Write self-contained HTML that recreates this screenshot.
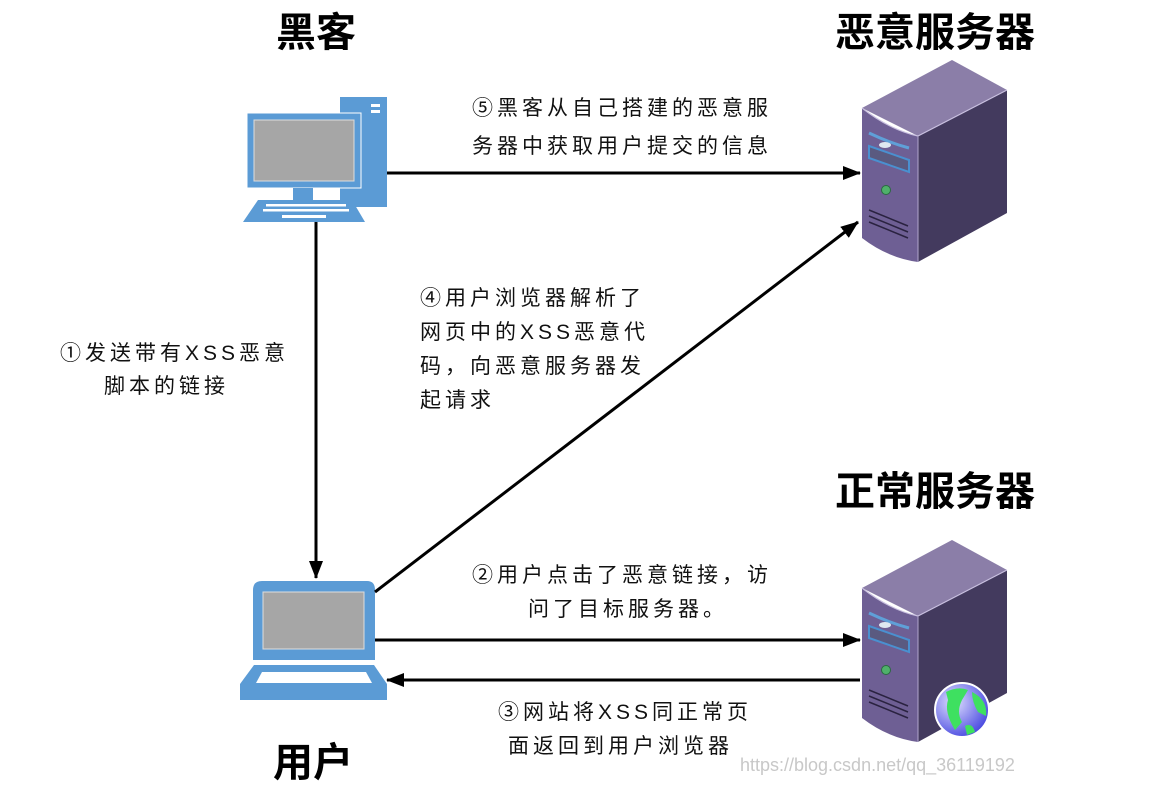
<!DOCTYPE html>
<html><head><meta charset="utf-8"><style>
html,body{margin:0;padding:0;background:#fff;}
svg{display:block;}
text{font-family:"Liberation Sans","Noto Sans CJK SC",sans-serif;}
.t{font-size:40px;font-weight:bold;fill:#000;}
.l{font-size:21px;fill:#111;letter-spacing:4px;}
</style></head><body>
<svg width="1150" height="802" viewBox="0 0 1150 802" xmlns="http://www.w3.org/2000/svg">
<defs>
<marker id="ah" markerWidth="18" markerHeight="14" refX="17" refY="7" orient="auto" markerUnits="userSpaceOnUse"><path d="M0,0 L18,7 L0,14 z" fill="#000"/></marker>
<radialGradient id="gl" cx="0.35" cy="0.35" r="0.7"><stop offset="0" stop-color="#e0e0ff"/><stop offset="1" stop-color="#4a4ae0"/></radialGradient>
<g id="srv">
<path d="M862,108 L952,60 L1007,90 L918,136 Z" fill="#8b7ea8"/>
<path d="M862,108 Q890,130 918,136 L918,262 Q888,258 862,238 Z" fill="#6e5f94"/>
<path d="M918,136 L1007,90 L1007,213 L918,262 Z" fill="#433a5e"/>
<path d="M862,108 Q890,130 918,136 L1007,90" fill="none" stroke="#c9c0e0" stroke-width="1.2"/>
<line x1="918" y1="136" x2="918" y2="262" stroke="#b0a6cc" stroke-width="1"/>
<path d="M869,133 Q890,143 909,148" stroke="#5fa0d8" stroke-width="3" fill="none"/>
<ellipse cx="885" cy="145" rx="6" ry="3" fill="#dfe8f0"/>
<path d="M869,146 L909,160 L909,172 L869,158 Z" fill="#5a5a80" stroke="#4a90d0" stroke-width="2"/>
<circle cx="886" cy="190" r="4.5" fill="#4fb06a" stroke="#2a6a40"/>
<path d="M869,210 L908,226 M869,216 L908,232 M869,222 L908,238" stroke="#2a2240" stroke-width="1.5"/>
</g>
</defs>

<!-- hacker PC -->
<rect x="340" y="97" width="47" height="110" fill="#5b9bd5"/>
<rect x="371" y="104" width="9" height="3" fill="#fff"/>
<rect x="371" y="110" width="9" height="3" fill="#fff"/>
<rect x="247" y="113" width="114" height="75" fill="#5b9bd5" stroke="#fff" stroke-width="1"/>
<rect x="254" y="120" width="100" height="61" fill="#a6a6a6" stroke="#ddd"/>
<rect x="293" y="188" width="20" height="12" fill="#5b9bd5"/>
<path d="M258,200 L352,200 L365,222 L243,222 Z" fill="#5b9bd5"/>
<g fill="#fff">
<rect x="266" y="204" width="80" height="2.5"/><rect x="263" y="209" width="86" height="2.5"/><rect x="282" y="215" width="44" height="3"/>
</g>

<!-- laptop -->
<path d="M262,581 L367,581 Q375,581 375,590 L375,660 L253,660 L253,590 Q253,581 262,581 Z" fill="#5b9bd5"/>
<rect x="263" y="592" width="101" height="57" fill="#a6a6a6" stroke="#ddd"/>
<path d="M254,665 L374,665 L387,684 L387,700 L240,700 L240,684 Z" fill="#5b9bd5"/>
<path d="M262,672 L366,672 L372,683 L256,683 Z" fill="#fff"/>

<!-- servers -->
<use href="#srv"/>
<use href="#srv" transform="translate(0,480)"/>
<circle cx="962" cy="710" r="27" fill="url(#gl)" stroke="#fff" stroke-width="2"/>
<path d="M946,692 Q958,686 968,690 L962,700 Q956,712 962,722 L955,730 Q944,712 948,700 Z" fill="#3ee060"/>
<path d="M972,692 Q988,700 986,716 L978,712 Q972,702 972,692 Z" fill="#3ee060"/>
<path d="M965,726 Q972,722 975,732 L967,735 Z" fill="#3ee060"/>

<!-- arrows -->
<line x1="387" y1="173" x2="860" y2="173" stroke="#000" stroke-width="3" marker-end="url(#ah)"/>
<line x1="316" y1="222" x2="316" y2="578" stroke="#000" stroke-width="3" marker-end="url(#ah)"/>
<line x1="375" y1="592" x2="858" y2="222" stroke="#000" stroke-width="3" marker-end="url(#ah)"/>
<line x1="375" y1="640" x2="860" y2="640" stroke="#000" stroke-width="3" marker-end="url(#ah)"/>
<line x1="860" y1="680" x2="387" y2="680" stroke="#000" stroke-width="3" marker-end="url(#ah)"/>

<!-- titles -->
<text class="t" x="316" y="46" text-anchor="middle">黑客</text>
<text class="t" x="935" y="46" text-anchor="middle">恶意服务器</text>
<text class="t" x="935" y="505" text-anchor="middle">正常服务器</text>
<text class="t" x="313" y="776" text-anchor="middle">用户</text>

<!-- labels -->
<text class="l" x="472" y="115">⑤黑客从自己搭建的恶意服</text>
<text class="l" x="472" y="153">务器中获取用户提交的信息</text>
<text class="l" x="420" y="305">④用户浏览器解析了</text>
<text class="l" x="420" y="339">网页中的XSS恶意代</text>
<text class="l" x="420" y="373">码，向恶意服务器发</text>
<text class="l" x="420" y="407">起请求</text>
<text class="l" x="60" y="360">①发送带有XSS恶意</text>
<text class="l" x="104" y="393">脚本的链接</text>
<text class="l" x="472" y="582">②用户点击了恶意链接，访</text>
<text class="l" x="528" y="616">问了目标服务器。</text>
<text class="l" x="498" y="719">③网站将XSS同正常页</text>
<text class="l" x="508" y="753">面返回到用户浏览器</text>
<text x="740" y="771" style="font-size:18px;fill:#c8c8c8">https://blog.csdn.net/qq_36119192</text>
</svg>
</body></html>
